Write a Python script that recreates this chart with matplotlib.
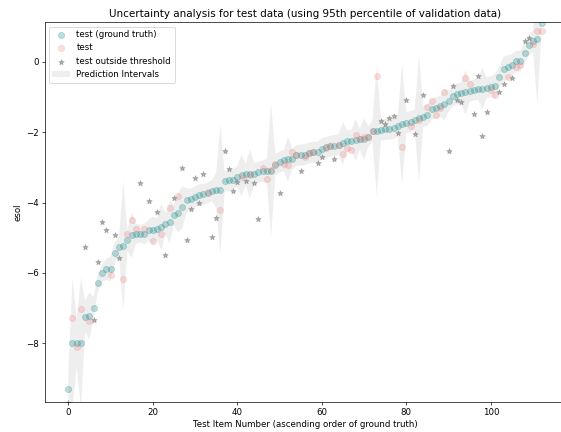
import numpy as np
import matplotlib
matplotlib.use('Agg')
import matplotlib.pyplot as plt

# ground truth (sorted ascending), predictions and interval half widths
ground_truth = [
    -9.31, -7.98, -7.98, -7.98, -7.25, -7.22, -6.99, -6.28, -6.01, -5.90,
    -5.88, -5.43, -5.26, -5.24, -5.07, -4.93, -4.89, -4.89, -4.89, -4.79,
    -4.79, -4.75, -4.69, -4.61, -4.56, -4.36, -4.29, -4.14, -3.94, -3.91,
    -3.84, -3.78, -3.77, -3.72, -3.66, -3.65, -3.63, -3.40, -3.37, -3.35,
    -3.26, -3.23, -3.20, -3.19, -3.18, -3.14, -3.11, -3.10, -3.09, -2.93,
    -2.85, -2.80, -2.77, -2.76, -2.66, -2.65, -2.64, -2.59, -2.57, -2.57,
    -2.47, -2.43, -2.40, -2.38, -2.35, -2.32, -2.24, -2.24, -2.22, -2.20,
    -2.20, -2.13, -1.97, -1.96, -1.94, -1.92, -1.91, -1.89, -1.83, -1.78,
    -1.73, -1.70, -1.65, -1.61, -1.56, -1.51, -1.35, -1.31, -1.26, -1.21,
    -1.12, -0.97, -0.91, -0.89, -0.87, -0.84, -0.80, -0.78, -0.76, -0.74,
    -0.71, -0.69, -0.43, -0.21, -0.16, -0.08, 0.02, 0.02, 0.25, 0.47,
    0.59, 0.66, 1.09,
]

predicted = [
    -9.70, -7.27, -8.10, -7.03, -5.26, -7.37, -7.34, -5.70, -4.56, -4.79,
    -6.07, -4.92, -5.58, -6.16, -4.90, -4.50, -4.76, -3.43, -4.76, -3.95,
    -5.08, -4.27, -4.89, -5.48, -4.15, -3.88, -3.80, -3.02, -5.07, -4.18,
    -3.31, -4.00, -3.18, -3.70, -4.99, -4.45, -4.20, -2.53, -3.06, -3.66,
    -3.42, -3.27, -3.39, -3.22, -3.45, -4.48, -3.03, -3.34, -3.08, -2.90,
    -3.74, -2.89, -2.92, -2.56, -2.66, -3.10, -2.70, -2.59, -2.57, -2.87,
    -2.70, -2.45, -2.40, -2.76, -2.36, -2.62, -2.46, -2.51, -2.08, -2.20,
    -2.15, -2.13, -1.96, -0.41, -1.68, -1.77, -1.61, -1.53, -2.01, -2.41,
    -1.09, -1.83, -2.05, -1.64, -0.95, -1.28, -1.12, -1.52, -1.32, -0.85,
    -2.54, -0.68, -1.09, -1.15, -0.45, -0.64, -1.49, -0.41, -2.10, -1.44,
    -0.80, -0.93, -0.85, -0.64, -0.43, -0.45, -0.14, -0.09, 0.59, 0.69,
    0.52, 0.87, 0.87,
]

outside_idx = [0, 4, 6, 7, 8, 9, 11, 12, 17, 19, 21, 23, 25, 27, 28, 29, 30, 31,
               32, 34, 35, 37, 38, 39, 40, 42, 44, 45, 50, 55, 59, 60, 63, 74, 75,
               76, 77, 78, 80, 82, 84, 90, 91, 92, 93, 96, 97, 98, 99, 102, 103,
               105, 108, 109]

half_width = [
    0.45, 1.85, 0.70, 1.85, 0.45, 0.67, 0.30, 0.25, 0.25, 0.30,
    0.35, 0.30, 0.25, 1.85, 0.30, 0.65, 0.30, 0.25, 0.30, 0.30,
    0.40, 0.30, 0.66, 0.30, 0.60, 0.30, 0.55, 0.60, 0.35, 0.30,
    0.30, 0.30, 0.30, 0.30, 0.30, 0.50, 1.85, 0.30, 0.30, 0.30,
    0.30, 0.60, 0.30, 0.70, 0.30, 0.30, 0.30, 0.35, 1.90, 0.30,
    0.30, 0.30, 0.64, 0.30, 0.30, 0.30, 0.30, 0.30, 0.30, 0.30,
    0.30, 0.30, 0.30, 0.30, 0.30, 0.60, 0.30, 0.30, 0.60, 0.30,
    0.60, 0.30, 0.30, 1.85, 0.30, 0.30, 0.30, 0.30, 0.30, 1.75,
    0.30, 0.30, 0.30, 1.80, 0.30, 0.30, 0.30, 0.30, 0.30, 0.45,
    0.30, 0.30, 0.30, 0.30, 0.64, 0.30, 0.30, 0.30, 0.60, 0.30,
    0.30, 0.35, 0.30, 0.35, 0.35, 0.30, 0.30, 0.30, 0.30, 0.30,
    0.30, 1.85, 0.30,
]

gt = np.array(ground_truth)
pred = np.array(predicted)
hw = np.array(half_width)
x = np.arange(len(gt))
out = np.zeros(len(gt), dtype=bool)
out[outside_idx] = True

DPI = 62
fig = plt.figure(figsize=(561 / DPI, 432 / DPI), dpi=DPI)
ax = fig.add_axes([0.0795, 0.0701, 0.928, 0.878])

band = ax.fill_between(x, gt - hw, gt + hw, color='gray', alpha=0.13, linewidth=0)
h_gt = ax.scatter(x, gt, color='teal', alpha=0.25, s=50)
h_in = ax.scatter(x[~out], pred[~out], color='lightcoral', alpha=0.25, s=50)
h_out = ax.scatter(x[out], pred[out], color='gray', alpha=0.6, marker='*', s=40)

ax.set_xlim(-5.6, 117.6)
ax.set_ylim(-9.66, 1.12)
ax.set_title('Uncertainty analysis for test data (using 95th percentile of validation data)')
ax.set_xlabel('Test Item Number (ascending order of ground truth)')
ax.set_ylabel('esol')
ax.legend([h_gt, h_in, h_out, band],
          ['test (ground truth)', 'test', 'test outside threshold', 'Prediction Intervals'],
          loc='upper left')

fig.savefig('out.png', dpi=DPI)
